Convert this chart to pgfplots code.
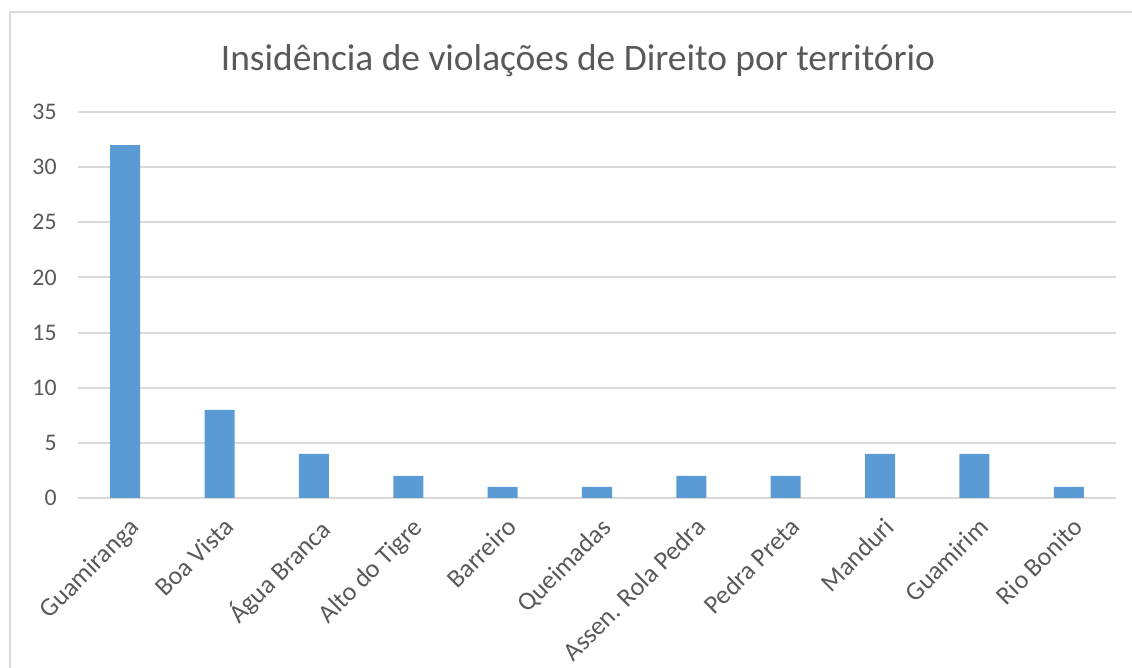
\documentclass[border=0pt]{standalone}
\usepackage{fontspec}
\setmainfont{Carlito}
\usepackage{pgfplots}
\pgfplotsset{compat=1.18}
\definecolor{barblue}{HTML}{5B9BD5}
\definecolor{txtgray}{HTML}{595959}
\definecolor{gridgray}{HTML}{D9D9D9}
\definecolor{framegray}{HTML}{D9D9D9}

\begin{document}
\begin{tikzpicture}
% page = 1132x668 px at 0.5pt per px, origin at the axis' lower left corner
\path[use as bounding box] (-39pt,-85pt) rectangle (527pt,249pt);
\draw[framegray, line width=1pt] (-34pt,-90pt) -- (-34pt,243pt) -- (530pt,243pt);
\node[txtgray, font=\fontsize{18.7}{22}\selectfont, inner sep=0pt] at (250pt,218.5pt)
  {Insidência de violações de Direito por território};
\begin{axis}[
  at={(0,0)}, anchor=south west,
  scale only axis,
  width=519pt, height=193pt,
  xmin=-0.5, xmax=10.5,
  ymin=0, ymax=35,
  ytick={0,5,...,35},
  xtick={0,...,10},
  xticklabels={Guamiranga, Boa Vista, Água Branca, Alto do Tigre, Barreiro,
    Queimadas, Assen. Rola Pedra, Pedra Preta, Manduri, Guamirim, Rio Bonito},
  x tick label style={rotate=45, anchor=north east, inner sep=0pt,
    xshift=-5.3pt, yshift=-7.2pt, font=\fontsize{13}{15}\selectfont},
  y tick label style={inner sep=0pt, xshift=-10.5pt, font=\fontsize{11.9}{14}\selectfont},
  tick label style={text=txtgray},
  /pgf/number format/assume math mode=true,
  axis line style={draw=none},
  major tick length=0pt,
  ymajorgrids=true,
  grid style={draw=gridgray, line width=1pt},
  clip=false,
]
\addplot[ybar, bar width=15pt, fill=barblue, draw=none]
  coordinates {
    (0,32) (1,8) (2,4) (3,2) (4,1) (5,1) (6,2) (7,2) (8,4) (9,4) (10,1)
  };
\end{axis}
\end{tikzpicture}
\end{document}
